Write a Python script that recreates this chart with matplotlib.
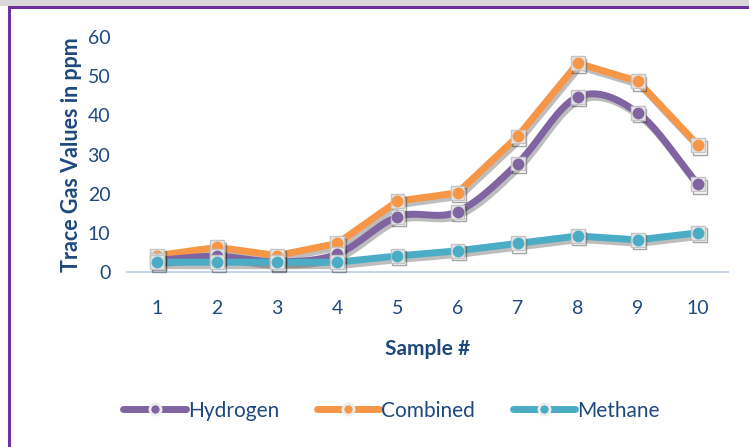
import numpy as np
import matplotlib
matplotlib.use("Agg")
import matplotlib.pyplot as plt
import matplotlib.patheffects as pe
from matplotlib.patches import Rectangle
from matplotlib.lines import Line2D

samples = [1, 2, 3, 4, 5, 6, 7, 8, 9, 10]
hydrogen = [3.0, 4.0, 2.6, 4.6, 14.1, 15.4, 27.7, 44.7, 40.6, 22.4]
combined = [4.2, 6.3, 4.2, 7.3, 18.1, 20.2, 34.6, 53.3, 48.7, 32.4]
methane = [2.5, 2.5, 2.5, 2.5, 4.1, 5.4, 7.3, 9.2, 8.2, 10.0]
yticks = [0, 10, 20, 30, 40, 50, 60]

c_h = "#8064A2"
c_c = "#F79646"
c_m = "#4BACC6"
txt = "#1F497D"

plt.rcParams['font.family'] = ['Lato', 'DejaVu Sans']

fig = plt.figure(figsize=(7.49, 4.47), dpi=100)
# frame
fig.patches.append(Rectangle((0, 1 - 6/447), 1, 6/447, transform=fig.transFigure,
                             facecolor="#D9D9D9", edgecolor="none"))
fig.patches.append(Rectangle((8/749, 1 - 9/447), 1 - 8/749, 3/447, transform=fig.transFigure,
                             facecolor="#7030A0", edgecolor="none"))
fig.patches.append(Rectangle((8/749, 0), 3/749, 1 - 6/447, transform=fig.transFigure,
                             facecolor="#7030A0", edgecolor="none"))

ax = fig.add_axes([127/749, 1 - 272/447, 601/749, 235/447])
ax.set_xlim(0.5, 10.5)
ax.set_ylim(0, 60)

shadow = [pe.SimpleLineShadow(offset=(1.5, -2.5), shadow_color="#444444", alpha=0.35), pe.Normal()]

def catmull(x, y, n=20):
    x = np.asarray(x, float); y = np.asarray(y, float)
    px = np.concatenate([[2*x[0]-x[1]], x, [2*x[-1]-x[-2]]])
    py = np.concatenate([[2*y[0]-y[1]], y, [2*y[-1]-y[-2]]])
    xs, ys = [], []
    for i in range(1, len(px) - 2):
        t = np.linspace(0, 1, n, endpoint=False)
        for p, out in ((px, xs), (py, ys)):
            p0, p1, p2, p3 = p[i-1], p[i], p[i+1], p[i+2]
            out.extend(0.5*((2*p1) + (-p0+p2)*t + (2*p0-5*p1+4*p2-p3)*t**2 + (-p0+3*p1-3*p2+p3)*t**3))
    xs.append(x[-1]); ys.append(y[-1])
    return np.array(xs), np.array(ys)

hx, hy = catmull(samples, hydrogen)
ax.plot(hx, hy, color=c_h, lw=5, solid_capstyle='round', path_effects=shadow, zorder=3, clip_on=False)
ax.plot(samples, combined, color=c_c, lw=5, solid_capstyle='round', solid_joinstyle='round',
        path_effects=shadow, zorder=2, clip_on=False)
ax.plot(samples, methane, color=c_m, lw=5, solid_capstyle='round', solid_joinstyle='round',
        path_effects=shadow, zorder=4, clip_on=False)

mk_shadow = [pe.SimpleLineShadow(offset=(1.2, -1.8), shadow_color="#333333", alpha=0.45), pe.Normal()]
for ys, c, z in ((combined, c_c, 5), (hydrogen, c_h, 6), (methane, c_m, 7)):
    ax.plot(samples, ys, ls='none', marker='s', ms=10, mfc="#E6E6E6", mec="#C4C4C4", mew=1,
            zorder=z, clip_on=False, path_effects=mk_shadow)
    ax.plot(samples, ys, ls='none', marker='o', ms=7.5, mfc=c, mec=c, zorder=z, clip_on=False)

handles = [Line2D([], [], color=c, lw=5, solid_capstyle='round', marker='o', ms=8,
                  mfc=c, mec="#EDEDED", mew=2) for c in (c_h, c_c, c_m)]
ax.legend(handles, ["Hydrogen", "Combined", "Methane"], loc='center',
          bbox_to_anchor=(0.44, -0.59), ncol=3, frameon=False, fontsize=15,
          labelcolor=txt, handlelength=3.0, handletextpad=0.1, columnspacing=1.8)

for s in ('top', 'right', 'left'):
    ax.spines[s].set_visible(False)
ax.spines['bottom'].set_color("#C6D5EA")
ax.spines['bottom'].set_linewidth(1.5)
ax.set_xticks(samples)
ax.set_xticklabels([str(s) for s in samples])
ax.set_yticks(yticks)
ax.tick_params(axis='both', length=0, labelsize=14, labelcolor=txt)
ax.tick_params(axis='x', pad=20)
ax.tick_params(axis='y', pad=12)
ax.set_xlabel("Sample #", fontsize=15, fontweight='bold', color=txt, labelpad=16)
ax.set_ylabel("Trace Gas Values in ppm", fontsize=15.5, fontweight='bold', color=txt, labelpad=4)

fig.savefig("out.png", dpi=100)
